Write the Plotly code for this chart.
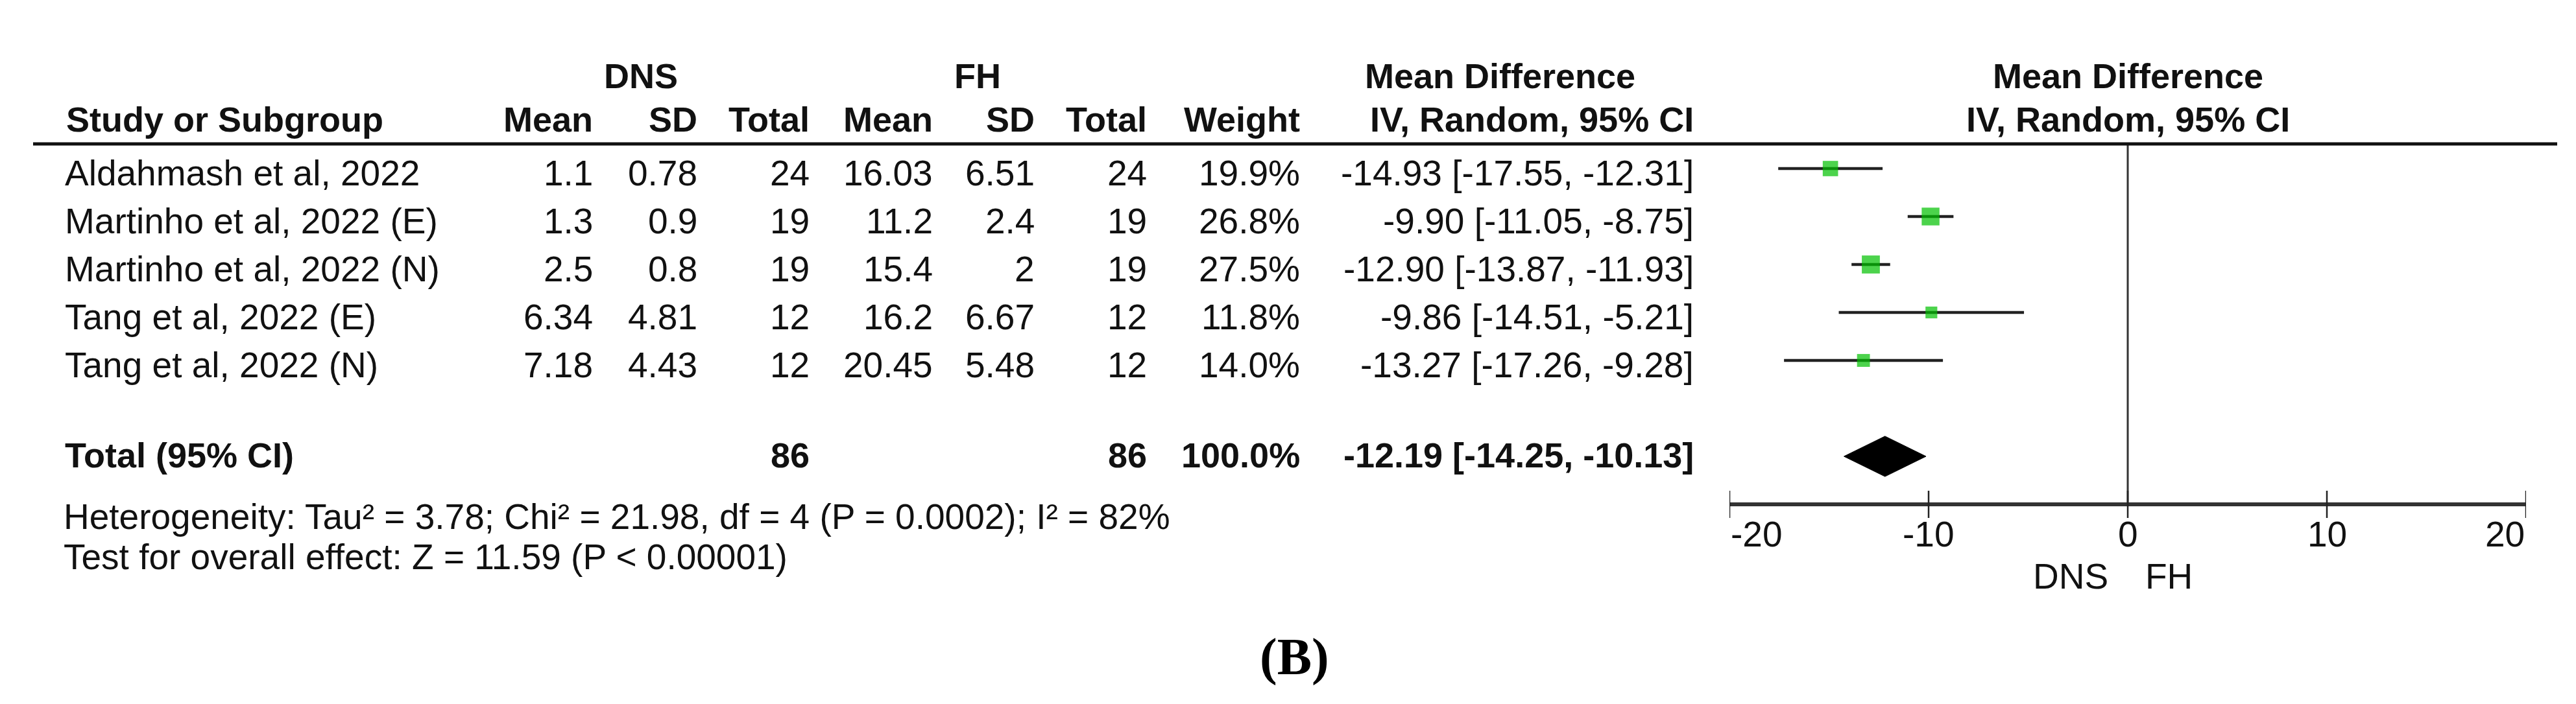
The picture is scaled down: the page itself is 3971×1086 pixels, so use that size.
import plotly.graph_objects as go

# ---------------- data ----------------
studies = ["Aldahmash et al, 2022", "Martinho et al, 2022 (E)", "Martinho et al, 2022 (N)",
           "Tang et al, 2022 (E)", "Tang et al, 2022 (N)"]
dns_mean = [1.1, 1.3, 2.5, 6.34, 7.18]
dns_sd = [0.78, 0.9, 0.8, 4.81, 4.43]
dns_n = [24, 19, 19, 12, 12]
fh_mean = [16.03, 11.2, 15.4, 16.2, 20.45]
fh_sd = [6.51, 2.4, 2, 6.67, 5.48]
fh_n = [24, 19, 19, 12, 12]
weight = [19.9, 26.8, 27.5, 11.8, 14.0]
md = [-14.93, -9.90, -12.90, -9.86, -13.27]
ci_lo = [-17.55, -11.05, -13.87, -14.51, -17.26]
ci_hi = [-12.31, -8.75, -11.93, -5.21, -9.28]

total_dns_n = 86
total_fh_n = 86
total_weight = 100.0
total_md = -12.19
total_lo = -14.25
total_hi = -10.13

heterogeneity = "Heterogeneity: Tau\u00b2 = 3.78; Chi\u00b2 = 21.98, df = 4 (P = 0.0002); I\u00b2 = 82%"
overall = "Test for overall effect: Z = 11.59 (P < 0.00001)"
tick_vals = [-20, -10, 0, 10, 20]
left_label = "DNS"
right_label = "FH"
panel_label = "(B)"

# ---------------- layout helpers ----------------
PAGE_W, PAGE_H = 3971, 1086
OFF = 8                      # default body margin of the html page
W, H = PAGE_W - 2 * OFF, PAGE_H - 2 * OFF
ROW0_PX, PITCH = 260.0, 74.0
X0_PX, X1_PX = 2666.0, 3894.0
SANS = "Liberation Sans, Arial, sans-serif"
SERIF = "Liberation Serif, Times New Roman, serif"
TXT = "#111111"
FS = 55
FSB = 54


def py(px):
    return (px - ROW0_PX) / PITCH


def pxx(px):
    return (px - OFF) / W


def fmt(v):
    return f"{v:g}"


ann = []


def add_text(text, xpx, ypx, anchor="left", bold=False, size=None, family=SANS, xref="paper", xdata=None):
    ann.append(dict(
        text=f"<b>{text}</b>" if bold else text,
        x=xdata if xref == "x" else pxx(xpx), xref=xref,
        y=py(ypx), yref="y",
        xanchor=anchor, yanchor="middle", showarrow=False,
        font=dict(family=family, size=size or (FSB if bold else FS), color=TXT),
    ))


# header row 1
HDR1, HDR2 = 117, 184
add_text("DNS", 988, HDR1, "center", bold=True)
add_text("FH", 1507, HDR1, "center", bold=True)
add_text("Mean Difference", 2312, HDR1, "center", bold=True)
add_text("Mean Difference", 0, HDR1, "center", bold=True, xref="x", xdata=0)

# header row 2
cols_right = {"dm": 916, "dsd": 1077, "dn": 1250, "fm": 1440, "fsd": 1597, "fn": 1770, "w": 2006, "ci": 2613}
add_text("Study or Subgroup", 100, HDR2, "left", bold=True)
add_text("Mean", cols_right["dm"], HDR2, "right", bold=True)
add_text("SD", cols_right["dsd"], HDR2, "right", bold=True)
add_text("Total", cols_right["dn"], HDR2, "right", bold=True)
add_text("Mean", cols_right["fm"], HDR2, "right", bold=True)
add_text("SD", cols_right["fsd"], HDR2, "right", bold=True)
add_text("Total", cols_right["fn"], HDR2, "right", bold=True)
add_text("Weight", cols_right["w"], HDR2, "right", bold=True)
add_text("IV, Random, 95% CI", cols_right["ci"], HDR2, "right", bold=True)
add_text("IV, Random, 95% CI", 0, HDR2, "center", bold=True, xref="x", xdata=0)

# study rows
for i, s in enumerate(studies):
    ypx = ROW0_PX + i * PITCH + 7
    add_text(s, 98, ypx, "left")
    add_text(fmt(dns_mean[i]), cols_right["dm"], ypx, "right")
    add_text(fmt(dns_sd[i]), cols_right["dsd"], ypx, "right")
    add_text(str(dns_n[i]), cols_right["dn"], ypx, "right")
    add_text(fmt(fh_mean[i]), cols_right["fm"], ypx, "right")
    add_text(fmt(fh_sd[i]), cols_right["fsd"], ypx, "right")
    add_text(str(fh_n[i]), cols_right["fn"], ypx, "right")
    add_text(f"{weight[i]:.1f}%", cols_right["w"], ypx, "right")
    add_text(f"{md[i]:.2f} [{ci_lo[i]:.2f}, {ci_hi[i]:.2f}]", cols_right["ci"], ypx, "right")

# total row
TOT_ROW = 6
ytot = 702
add_text("Total (95% CI)", 98, ytot, "left", bold=True)
add_text(str(total_dns_n), cols_right["dn"], ytot, "right", bold=True)
add_text(str(total_fh_n), cols_right["fn"], ytot, "right", bold=True)
add_text(f"{total_weight:.1f}%", cols_right["w"], ytot, "right", bold=True)
add_text(f"{total_md:.2f} [{total_lo:.2f}, {total_hi:.2f}]", cols_right["ci"], ytot, "right", bold=True)

add_text(heterogeneity, 96, 797, "left")
add_text(overall, 96, 859, "left")

# axis tick labels
AX_ROW = 7
for t in tick_vals:
    anchor = "left" if t == tick_vals[0] else ("right" if t == tick_vals[-1] else "center")
    ann.append(dict(text=f"{t:g}", x=t, xref="x", y=py(824), yref="y", xanchor=anchor, yanchor="middle",
                    showarrow=False, font=dict(family=SANS, size=FS, color=TXT)))
ann.append(dict(text=left_label, x=-0.9, xref="x", y=py(889), yref="y", xanchor="right", yanchor="middle",
                showarrow=False, font=dict(family=SANS, size=FS, color=TXT)))
ann.append(dict(text=right_label, x=0.8, xref="x", y=py(889), yref="y", xanchor="left", yanchor="middle",
                showarrow=False, font=dict(family=SANS, size=FS, color=TXT)))

ann.append(dict(text=f"<b>{panel_label}</b>", x=pxx(1995), xref="paper", y=py(1013), yref="y",
                xanchor="center", yanchor="middle", showarrow=False,
                font=dict(family=SERIF, size=80, color="#000000")))

fig = go.Figure()

# CI lines
xs, ys = [], []
for i in range(len(studies)):
    xs += [ci_lo[i], ci_hi[i], None]
    ys += [i, i, None]
fig.add_trace(go.Scatter(x=xs, y=ys, mode="lines", line=dict(color="#222222", width=4.5),
                         hoverinfo="skip", showlegend=False))

# squares
fig.add_trace(go.Scatter(x=md, y=list(range(len(studies))), mode="markers",
                         marker=dict(symbol="square", color="#00c000", line=dict(width=0),
                                     size=[5.3 * (w ** 0.5) for w in weight]),
                         showlegend=False))

# diamond
h = 0.42
fig.add_trace(go.Scatter(x=[total_lo, total_md, total_hi, total_md, total_lo],
                         y=[TOT_ROW, TOT_ROW - h, TOT_ROW, TOT_ROW + h, TOT_ROW],
                         mode="lines", fill="toself", fillcolor="#000000",
                         line=dict(color="#000000", width=1), showlegend=False))

# zero line
fig.add_trace(go.Scatter(x=[0, 0], y=[py(222), AX_ROW], mode="lines",
                         line=dict(color="#333333", width=3), showlegend=False))

# axis line and ticks
fig.add_trace(go.Scatter(x=[tick_vals[0], tick_vals[-1]], y=[AX_ROW, AX_ROW], mode="lines",
                         line=dict(color="#333333", width=6), showlegend=False))
tx, ty = [], []
for t in tick_vals:
    tx += [t, t, None]
    ty += [py(757), py(799), None]
fig.add_trace(go.Scatter(x=tx, y=ty, mode="lines", line=dict(color="#222222", width=2.5), showlegend=False))

shapes = [dict(type="line", xref="paper", yref="y", x0=pxx(51), x1=pxx(3942), y0=py(222), y1=py(222),
               line=dict(color="#111111", width=5))]

fig.update_layout(
    width=W, height=H, margin=dict(l=0, r=0, t=0, b=0),
    paper_bgcolor="white", plot_bgcolor="white",
    xaxis=dict(domain=[pxx(X0_PX), pxx(X1_PX)], range=[tick_vals[0], tick_vals[-1]],
               visible=False, fixedrange=True),
    yaxis=dict(domain=[0, 1], range=[py(OFF + H), py(OFF)], visible=False, fixedrange=True),
    annotations=ann, shapes=shapes, showlegend=False,
)

fig.write_html("out.html")
